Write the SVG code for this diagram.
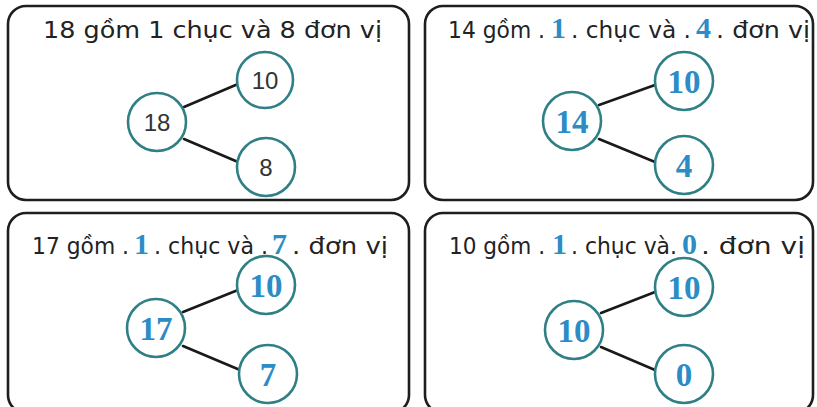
<svg xmlns="http://www.w3.org/2000/svg" width="817" height="407" viewBox="0 0 817 407">
  <style>
    .panel { fill: #ffffff; stroke: #1e1e1e; stroke-width: 2.6; }
    .ring { fill: #ffffff; stroke: #2f8086; stroke-width: 2.6; }
    .link { stroke: #1a1a1a; stroke-width: 2.6; stroke-linecap: round; }
    .title { font-family: "DejaVu Sans", "Liberation Sans", sans-serif; font-size: 23px; fill: #222222; }
    .fill { font-family: "Liberation Serif", "Times New Roman", serif; font-weight: bold; font-size: 30px; fill: #2b8cc6; }
    .num { font-family: "Liberation Sans", Arial, sans-serif; font-size: 24px; fill: #333333; text-anchor: middle; }
    .ans { font-family: "Liberation Serif", "Times New Roman", serif; font-weight: bold; font-size: 33px; fill: #2b8cc6; text-anchor: middle; }
  </style>
  <rect width="817" height="407" fill="#ffffff"/>

  <!-- panel frames -->
  <g id="frames">
    <rect class="panel" x="8" y="6" width="401" height="194" rx="18"/>
    <rect class="panel" x="425" y="6" width="388" height="194" rx="18"/>
    <rect class="panel" x="8" y="213" width="401" height="200" rx="18"/>
    <rect class="panel" x="425" y="213" width="388" height="200" rx="18"/>
  </g>

  <!-- titles -->
  <g id="titles">
    <text class="title" x="43" y="38" textLength="339" lengthAdjust="spacingAndGlyphs">18 gồm 1 chục và 8 đơn vị</text>

    <text class="title" x="448" y="38" textLength="97" lengthAdjust="spacingAndGlyphs">14 gồm .</text>
    <text class="fill" x="551" y="38">1</text>
    <text class="title" x="571" y="38" textLength="120" lengthAdjust="spacingAndGlyphs">. chục và .</text>
    <text class="fill" x="696" y="38">4</text>
    <text class="title" x="716" y="38" textLength="94" lengthAdjust="spacingAndGlyphs">. đơn vị</text>

    <text class="title" x="32" y="254" textLength="97" lengthAdjust="spacingAndGlyphs">17 gồm .</text>
    <text class="fill" x="134" y="254">1</text>
    <text class="title" x="154" y="254" textLength="114" lengthAdjust="spacingAndGlyphs">. chục và .</text>
    <text class="fill" x="272" y="254">7</text>
    <text class="title" x="292" y="254" textLength="96" lengthAdjust="spacingAndGlyphs">. đơn vị</text>

    <text class="title" x="449" y="254" textLength="96" lengthAdjust="spacingAndGlyphs">10 gồm .</text>
    <text class="fill" x="552" y="254">1</text>
    <text class="title" x="571" y="254" textLength="106" lengthAdjust="spacingAndGlyphs">. chục và.</text>
    <text class="fill" x="682" y="254">0</text>
    <text class="title" x="701" y="254" textLength="104" lengthAdjust="spacingAndGlyphs">. đơn vị</text>
  </g>

  <!-- connectors -->
  <g id="connectors">
    <line class="link" x1="184" y1="107" x2="238" y2="84"/>
    <line class="link" x1="184" y1="139" x2="238" y2="162"/>

    <line class="link" x1="599" y1="105" x2="655" y2="85"/>
    <line class="link" x1="599" y1="139" x2="655" y2="162"/>

    <line class="link" x1="183" y1="312" x2="238" y2="290"/>
    <line class="link" x1="183" y1="346" x2="240" y2="370"/>

    <line class="link" x1="601" y1="313" x2="655" y2="292"/>
    <line class="link" x1="601" y1="347" x2="655" y2="370"/>
  </g>

  <!-- panel 1 nodes -->
  <g id="p1-whole"><circle class="ring" cx="157" cy="122" r="29"/><text class="num" x="157" y="131">18</text></g>
  <g id="p1-tens"><circle class="ring" cx="265" cy="80" r="28"/><text class="num" x="265" y="89">10</text></g>
  <g id="p1-units"><circle class="ring" cx="266" cy="167" r="29"/><text class="num" x="266" y="176">8</text></g>

  <!-- panel 2 nodes -->
  <g id="p2-whole"><circle class="ring" cx="572" cy="121" r="29"/><text class="ans" x="572" y="133">14</text></g>
  <g id="p2-tens"><circle class="ring" cx="684" cy="81" r="29"/><text class="ans" x="684" y="93">10</text></g>
  <g id="p2-units"><circle class="ring" cx="684" cy="165" r="29"/><text class="ans" x="684" y="177">4</text></g>

  <!-- panel 3 nodes -->
  <g id="p3-whole"><circle class="ring" cx="156" cy="328" r="29"/><text class="ans" x="156" y="340">17</text></g>
  <g id="p3-tens"><circle class="ring" cx="266" cy="285" r="29"/><text class="ans" x="266" y="297">10</text></g>
  <g id="p3-units"><circle class="ring" cx="268" cy="374" r="29"/><text class="ans" x="268" y="386">7</text></g>

  <!-- panel 4 nodes -->
  <g id="p4-whole"><circle class="ring" cx="574" cy="330" r="29"/><text class="ans" x="574" y="342">10</text></g>
  <g id="p4-tens"><circle class="ring" cx="684" cy="287" r="29"/><text class="ans" x="684" y="299">10</text></g>
  <g id="p4-units"><circle class="ring" cx="684" cy="374" r="29"/><text class="ans" x="684" y="386">0</text></g>
</svg>
